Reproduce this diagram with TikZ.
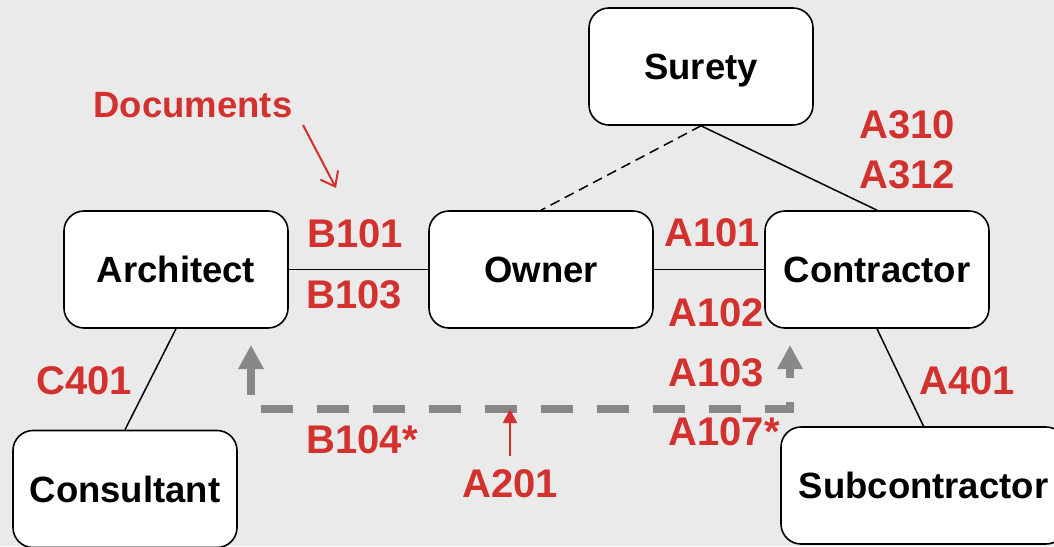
\documentclass[tikz,border=0pt]{standalone}
\usepackage{fontspec}
\setmainfont{Liberation Sans}
\usetikzlibrary{arrows.meta}
\definecolor{bgc}{RGB}{234,234,234}
\definecolor{lbl}{RGB}{211,49,46}
\definecolor{arr}{RGB}{136,136,136}
\begin{document}
\begin{tikzpicture}[x=1pt,y=-1pt,
  box/.style={draw=black, line width=1.6pt, fill=white, rounded corners=20pt,
    minimum width=224pt, minimum height=117pt, inner sep=0pt,
    text height=26pt, text depth=0pt,
    font=\fontsize{36.5}{40}\selectfont\bfseries},
  lab/.style={text=lbl, inner sep=0pt, font=\fontsize{40}{44}\selectfont\bfseries},
  conn/.style={line width=1.5pt},
  grayarrow/.style={draw=arr, line width=8pt, -{Triangle[length=24pt,width=24pt]}},
  redarrow/.style={draw=lbl, line width=2pt}]
\path[use as bounding box] (0,0) rectangle (1054,546);
\clip (0,0) rectangle (1054,546);
\fill[bgc] (0,0) rectangle (1054,546);

% nodes
\node[box] (surety) at (701,66.5) {Surety};
\node[box] (architect) at (176,269.5) {Architect};
\node[box] (owner) at (541,269.5) {Owner};
\node[box] (contractor) at (877,269.5) {Contractor};
\node[box] (consultant) at (125,489) {Consultant};
\node[box, minimum width=285pt] (sub) at (923.5,485.5) {Subcontractor};

% connectors
\draw[conn] (architect.east) -- (owner.west);
\draw[conn] (owner.east) -- (contractor.west);
\draw[conn, dash pattern=on 10pt off 6pt] (surety.south) -- (owner.north);
\draw[conn] (surety.south) -- (contractor.north);
\draw[conn] (architect.south) -- (consultant.north);
\draw[conn] (contractor.south) -- (sub.north);

% gray arrows
\coordinate (gL0) at (251,395);
\coordinate (gL1) at (251,345);
\coordinate (g0) at (261,409);
\coordinate (g1) at (790,409);
\coordinate (g2) at (790,345);
\draw[grayarrow] (gL0) -- (gL1);
\draw[grayarrow, dash pattern=on 32pt off 24pt] (g0) -- (g1) -- (g2);

% red arrows
\coordinate (d0) at (303,125);
\coordinate (d1) at (336,188);
\draw[redarrow, -{Straight Barb[length=13pt,width=20pt]}] (d0) -- (d1);
\coordinate (a0) at (510,456);
\coordinate (a1) at (510,409);
\draw[redarrow, -{Triangle[length=14pt,width=14pt]}] (a0) -- (a1);

% labels
\node[lab, font=\fontsize{36.5}{40}\selectfont\bfseries] (ldoc) at (193,105) {Documents};
\node[lab] (l310) at (907,125) {A310};
\node[lab] (l312) at (907,175) {A312};
\node[lab] (lb101) at (355,234) {B101};
\node[lab] (lb103) at (354,295) {B103};
\node[lab] (la101) at (712,233) {A101};
\node[lab] (la102) at (716,313) {A102};
\node[lab] (la103) at (716,373) {A103};
\node[lab] (la107) at (724,432) {A107*};
\node[lab] (lc401) at (84,381) {C401};
\node[lab] (la401) at (967,381) {A401};
\node[lab] (lb104) at (362,440) {B104*};
\node[lab] (la201) at (510,484) {A201};
\end{tikzpicture}
\end{document}
